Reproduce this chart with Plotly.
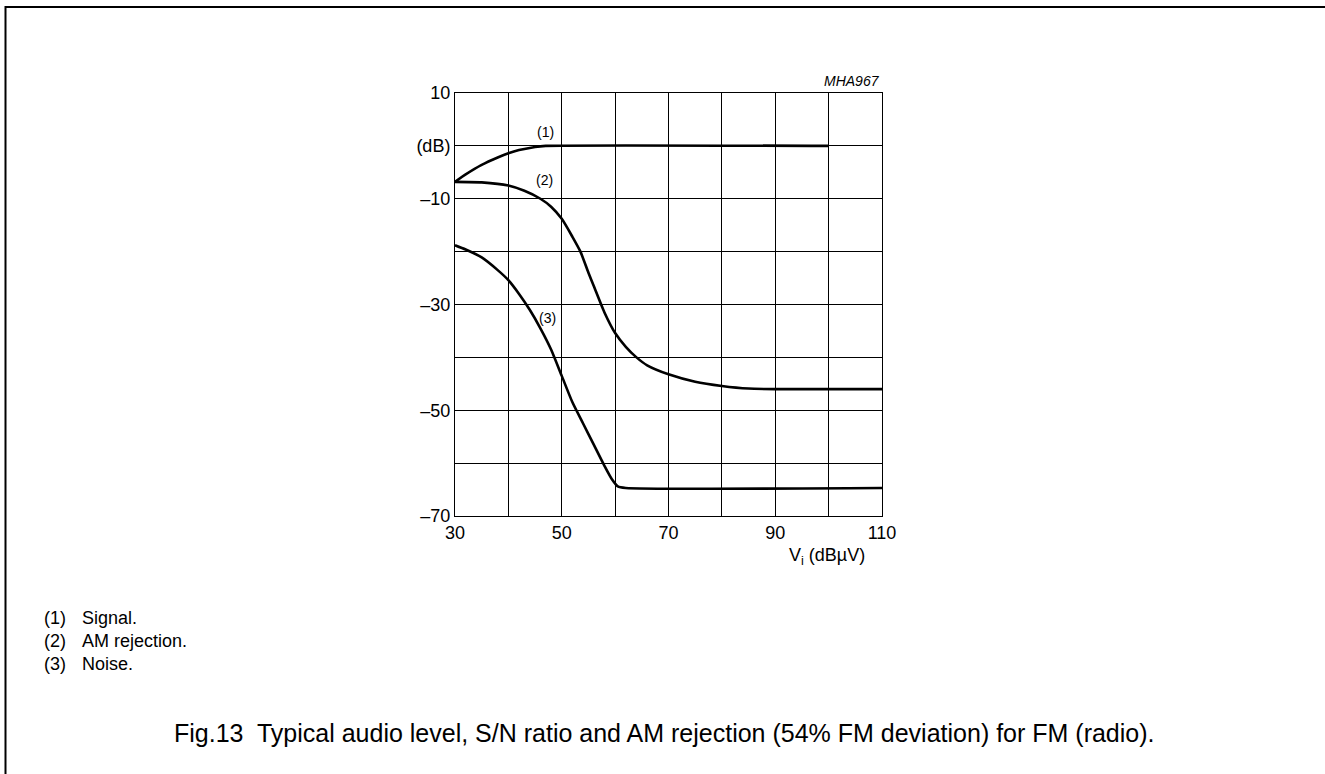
import plotly.graph_objects as go

# ---- data ----
signal_x = [30, 32, 35, 38, 40, 42, 45, 47, 100]
signal_y = [-6.8, -5.4, -3.6, -2.2, -1.4, -0.8, -0.2, 0.0, 0.0]

amrej_x = [30, 35, 40, 43, 46, 48, 50, 52, 53.5, 55, 56, 58, 60, 62, 64, 66, 70, 75, 80, 85, 90, 110]
amrej_y = [-6.8, -6.9, -7.5, -8.5, -10.0, -11.5, -13.8, -17.2, -20.0, -24.0, -26.5, -31.5, -35.4, -38.0,
           -40.0, -41.5, -43.2, -44.6, -45.4, -45.9, -46.0, -46.0]

noise_x = [30, 32, 35, 38, 40, 42, 44, 46, 48, 50, 52, 54, 56, 58, 59.5, 60.5, 62, 110]
noise_y = [-18.8, -19.6, -21.1, -23.5, -25.4, -28.0, -31.0, -34.5, -38.5, -43.5, -48.5, -52.5, -56.5,
           -60.5, -63.2, -64.4, -64.7, -64.7]

x_ticks = [30, 50, 70, 90, 110]
x_tick_text = ["30", "50", "70", "90", "110"]
x_minor = [40, 60, 80, 100]
y_ticks = [10, 0, -10, -30, -50, -70]
y_tick_text = ["10", "(dB)", "–10", "–30", "–50", "–70"]
y_minor = [-20, -40, -60]

curve_labels = ["(1)", "(2)", "(3)"]
curve_label_x = [46.9, 46.7, 47.4]
curve_label_y = [2.6, -6.5, -32.6]

footnotes = ["(1)", "(2)", "(3)"]
footnote_text = ["Signal.", "AM rejection.", "Noise."]
caption = "Fig.13  Typical audio level, S/N ratio and AM rejection (54% FM deviation) for FM (radio)."

# ---- layout geometry (pixels) ----
W, H = 1325, 774
L, R, T, B = 455, 882, 93, 516


def px2x(px):
    return (px - L) / (R - L)


def px2y(py):
    return (B - py) / (B - T)


FONT = "Liberation Sans, Arial, sans-serif"

fig = go.Figure()
for xs, ys in [(signal_x, signal_y), (amrej_x, amrej_y), (noise_x, noise_y)]:
    fig.add_trace(go.Scatter(x=xs, y=ys, mode="lines",
                             line=dict(color="black", width=2.6, shape="spline", smoothing=0.6),
                             showlegend=False, hoverinfo="skip"))

annotations = []
for t, x, y in zip(curve_labels, curve_label_x, curve_label_y):
    annotations.append(dict(x=x, y=y, xref="x", yref="y", text=t, showarrow=False,
                            font=dict(size=14, color="black", family=FONT)))

annotations.append(dict(x=px2x(882), y=px2y(81), xref="paper", yref="paper", text="<i>MHA967</i>",
                        showarrow=False, xanchor="right", yanchor="middle",
                        font=dict(size=14, color="black", family=FONT)))
annotations.append(dict(x=px2x(867), y=px2y(556), xref="paper", yref="paper",
                        text="V<sub>i</sub> (dBµV)", showarrow=False, xanchor="right", yanchor="middle",
                        font=dict(size=18, color="black", family=FONT)))

foot_y = [618, 641, 664]
for n, t, py in zip(footnotes, footnote_text, foot_y):
    annotations.append(dict(x=px2x(42), y=px2y(py), xref="paper", yref="paper", text=n, showarrow=False,
                            xanchor="left", yanchor="middle", font=dict(size=18, color="black", family=FONT)))
    annotations.append(dict(x=px2x(80), y=px2y(py), xref="paper", yref="paper", text=t, showarrow=False,
                            xanchor="left", yanchor="middle", font=dict(size=18, color="black", family=FONT)))

annotations.append(dict(x=px2x(664.5), y=px2y(733), xref="paper", yref="paper", text=caption, showarrow=False,
                        xanchor="center", yanchor="middle", font=dict(size=25, color="black", family=FONT)))

fig.update_layout(
    width=W, height=H, autosize=False,
    margin=dict(l=L, r=W - R, t=T, b=H - B, pad=0),
    paper_bgcolor="white", plot_bgcolor="white",
    annotations=annotations,
    shapes=[dict(type="rect", xref="paper", yref="paper",
                 x0=px2x(5.5), x1=px2x(1345), y0=px2y(7), y1=px2y(800),
                 line=dict(color="black", width=2), fillcolor="rgba(0,0,0,0)")],
    font=dict(family=FONT, color="black"),
    hovermode=False,
)
fig.update_xaxes(range=[30, 110], tickvals=x_ticks, ticktext=x_tick_text, showgrid=True, gridcolor="black",
                 gridwidth=1, showline=True, mirror=True, linecolor="black", linewidth=1, ticks="",
                 zeroline=False, tickfont=dict(size=18, color="black", family=FONT),
                 minor=dict(tickvals=x_minor, showgrid=True, gridcolor="black", gridwidth=1, ticks=""))
fig.update_yaxes(range=[-70, 10], tickvals=y_ticks, ticktext=y_tick_text, showgrid=True, gridcolor="black",
                 gridwidth=1, showline=True, mirror=True, linecolor="black", linewidth=1, ticks="",
                 zeroline=False, tickfont=dict(size=18, color="black", family=FONT),
                 minor=dict(tickvals=y_minor, showgrid=True, gridcolor="black", gridwidth=1, ticks=""))

fig.write_html("out.html", config={"displayModeBar": False, "staticPlot": True},
               post_script="document.body.style.margin='0';document.body.style.overflow='hidden';")
